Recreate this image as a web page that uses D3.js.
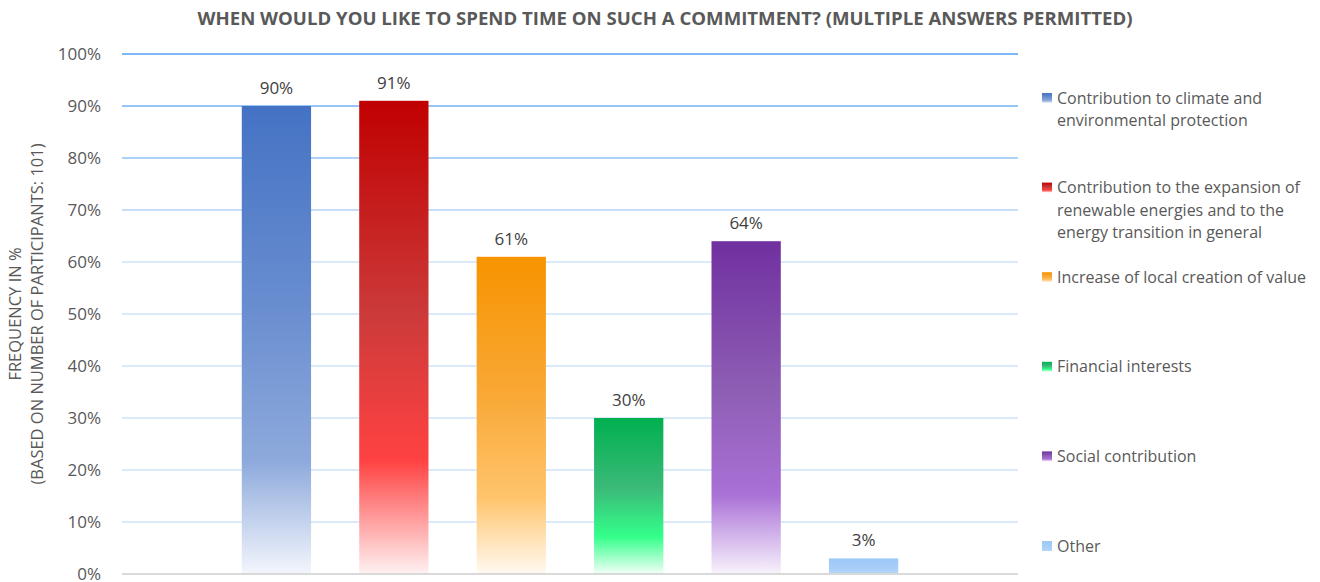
<!DOCTYPE html>
<html>
<head>
<meta charset="utf-8">
<script src="https://cdn.jsdelivr.net/npm/d3@7"></script>
<style>
  body { margin: 0; background: #fff; }
  svg { display: block; font-family: "Open Sans", sans-serif; }
</style>
</head>
<body>
<svg width="1320" height="582"></svg>
<script>
const categories = [
  "Contribution to climate and environmental protection",
  "Contribution to the expansion of renewable energies and to the energy transition in general",
  "Increase of local creation of value",
  "Financial interests",
  "Social contribution",
  "Other"
];
const legendLines = [
  ["Contribution to climate and", "environmental protection"],
  ["Contribution to the expansion of", "renewable energies and to the", "energy transition in general"],
  ["Increase of local creation of value"],
  ["Financial interests"],
  ["Social contribution"],
  ["Other"]
];
const values = [90, 91, 61, 30, 64, 3];
const yTicks = [0, 10, 20, 30, 40, 50, 60, 70, 80, 90, 100];

// gradient stops per bar: top, middle, bright, bottom
const gradients = [
  ["#4472c4", "#6b8fd0", "#8eaadc", "#f3f6fc"],
  ["#c00000", "#cc3a3a", "#ff4242", "#fff2f2"],
  ["#f79400", "#f9a938", "#ffc46c", "#fffaf2"],
  ["#00b050", "#3bba78", "#33ff8a", "#f2fff7"],
  ["#7030a0", "#8e5eb4", "#a970d6", "#f8f3fc"],
  ["#9cc8f8", "#a4ccf8", "#acd1f9", "#b6d7fa"]
];

const svg = d3.select("svg");
const margin = { left: 122, right: 1018, top: 54, bottom: 574 };

const x = d3.scaleBand()
  .domain(categories)
  .range([margin.left, margin.right])
  .paddingInner(0.41)
  .paddingOuter(1.02);

const y = d3.scaleLinear()
  .domain([0, 100])
  .range([margin.bottom, margin.top]);

const defs = svg.append("defs");
gradients.forEach((g, i) => {
  const lg = defs.append("linearGradient")
    .attr("id", "grad" + i)
    .attr("x1", 0).attr("y1", 0).attr("x2", 0).attr("y2", 1);
  [[0, g[0]], [0.45, g[1]], [0.76, g[2]], [1, g[3]]].forEach(s => {
    lg.append("stop").attr("offset", s[0]).attr("stop-color", s[1]);
  });
});

// gridlines, darker blue at the top
const gridColor = d3.scaleLinear().domain([10, 60, 100]).range(["#cfe3f9", "#cfe3f9", "#55a2f0"]);
svg.append("g")
  .selectAll("line")
  .data(yTicks.filter(d => d > 0))
  .join("line")
  .attr("x1", margin.left)
  .attr("x2", margin.right)
  .attr("y1", d => y(d))
  .attr("y2", d => y(d))
  .attr("stroke", d => gridColor(d))
  .attr("stroke-width", 1.5);

// bars
svg.append("g")
  .selectAll("rect")
  .data(values)
  .join("rect")
  .attr("x", (d, i) => x(categories[i]))
  .attr("y", d => y(d))
  .attr("width", x.bandwidth())
  .attr("height", d => y(0) - y(d))
  .attr("fill", (d, i) => `url(#grad${i})`);

// axis line
svg.append("line")
  .attr("x1", margin.left)
  .attr("x2", margin.right)
  .attr("y1", y(0))
  .attr("y2", y(0))
  .attr("stroke", "#d9d9d9")
  .attr("stroke-width", 2);

// y tick labels
svg.append("g")
  .selectAll("text")
  .data(yTicks)
  .join("text")
  .attr("x", 101)
  .attr("y", d => y(d))
  .attr("dy", "0.33em")
  .attr("text-anchor", "end")
  .attr("font-size", 17)
  .attr("fill", "#595959")
  .text(d => d + "%");

// data labels
svg.append("g")
  .selectAll("text")
  .data(values)
  .join("text")
  .attr("x", (d, i) => x(categories[i]) + x.bandwidth() / 2)
  .attr("y", d => y(d) - 12)
  .attr("text-anchor", "middle")
  .attr("font-size", 17)
  .attr("fill", "#404040")
  .text(d => d + "%");

// y axis title
const yTitle = svg.append("text")
  .attr("transform", "translate(21,314) rotate(-90)")
  .attr("text-anchor", "middle")
  .attr("font-size", 16.5)
  .attr("fill", "#595959");
yTitle.append("tspan").attr("x", 0).attr("y", 0).text("FREQUENCY IN %");
yTitle.append("tspan").attr("x", 0).attr("y", 22).text("(BASED ON NUMBER OF PARTICIPANTS: 101)");

// chart title
svg.append("text")
  .attr("x", 665)
  .attr("y", 25)
  .attr("text-anchor", "middle")
  .attr("font-size", 17)
  .attr("font-weight", "bold")
  .attr("fill", "#595959")
  .attr("textLength", 935)
  .attr("lengthAdjust", "spacingAndGlyphs")
  .text("WHEN WOULD YOU LIKE TO SPEND TIME ON SUCH A COMMITMENT? (MULTIPLE ANSWERS PERMITTED)");

// legend
const legend = svg.append("g")
  .selectAll("g")
  .data(legendLines)
  .join("g")
  .attr("transform", (d, i) => `translate(1042,${98 + i * 89.6})`);

legend.append("rect")
  .attr("x", 0)
  .attr("y", -5)
  .attr("width", 10)
  .attr("height", 10)
  .attr("fill", (d, i) => `url(#grad${i})`);

legend.append("text")
  .attr("font-size", 16)
  .attr("fill", "#595959")
  .selectAll("tspan")
  .data(d => d)
  .join("tspan")
  .attr("x", 15)
  .attr("y", (d, j) => j * 22.5)
  .attr("dy", "0.35em")
  .text(d => d);
</script>
</body>
</html>
